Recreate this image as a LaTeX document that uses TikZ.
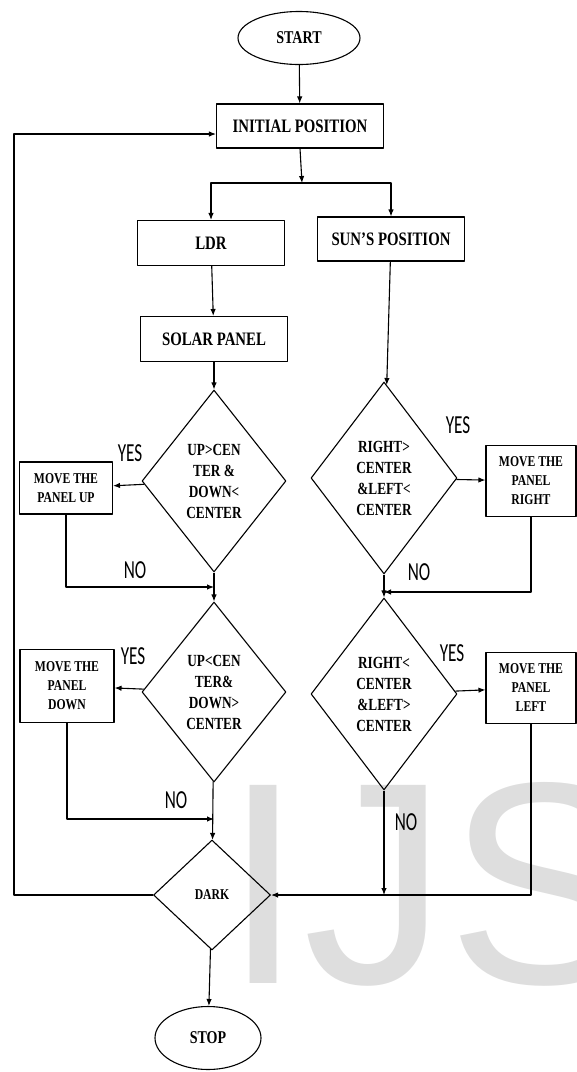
\documentclass[tikz,border=0pt]{standalone}
\usepackage{fontspec}
\newfontfamily\boxfont{Liberation Serif}[FakeStretch=0.78]
\newfontfamily\labfont{Carlito}[FakeStretch=0.66]
\newfontfamily\wmfont{Liberation Sans}
\usetikzlibrary{shapes.geometric,arrows.meta}
\begin{document}
\begin{tikzpicture}[x=1pt, y=-1pt, line width=1.1pt, line join=round,
    arr/.style={-{Latex[length=7pt,width=5.5pt]}},
    box/.style={draw, rectangle, align=center, inner sep=0pt, font={\boxfont\bfseries\fontsize{19}{21}\selectfont}},
    small/.style={box, font={\boxfont\bfseries\fontsize{15}{19}\selectfont}},
    dia/.style={draw, diamond, align=center, inner sep=0pt, font={\boxfont\bfseries\fontsize{17}{21}\selectfont}},
    oval/.style={draw, ellipse, inner sep=0pt, font={\boxfont\bfseries\fontsize{18}{20}\selectfont}},
    lab/.style={font={\labfont\fontsize{26}{28}\selectfont}}]
    \useasboundingbox (0,0) rectangle (577,1072);
    % watermark
    \node[anchor=base west, inner sep=0pt, text=black!13, font={\wmfont\fontsize{288}{288}\selectfont}] (wm) at (223,983) {IJS};
    % top
    \node[oval, minimum width=122, minimum height=53] (start) at (299,38) {START};
    \node[box, minimum width=167, minimum height=44] (init) at (300,126) {INITIAL POSITION};
    \node[box, minimum width=147, minimum height=45] (ldr) at (211,243) {LDR};
    \node[box, minimum width=147, minimum height=44] (sun) at (391,239) {SUN’S POSITION};
    \node[box, minimum width=147, minimum height=45] (solar) at (214,339) {SOLAR PANEL};
    % decisions
    \node[dia, minimum width=144, minimum height=182] (upc) at (214,481) {UP>CEN\\TER \&\\DOWN<\\CENTER};
    \node[dia, minimum width=146, minimum height=192] (rightc) at (384,478) {RIGHT>\\CENTER\\\&LEFT<\\CENTER};
    \node[dia, minimum width=144, minimum height=180] (downc) at (214,692) {UP<CEN\\TER\&\\DOWN>\\CENTER};
    \node[dia, minimum width=146, minimum height=192] (leftc) at (384,694) {RIGHT<\\CENTER\\\&LEFT>\\CENTER};
    \node[dia, minimum width=117, minimum height=110, font={\boxfont\bfseries\fontsize{15}{17}\selectfont}] (dark) at (212,895) {DARK};
    \node[oval, minimum width=106, minimum height=63] (stop) at (208,1038) {STOP};
    % moves
    \node[small, minimum width=93, minimum height=52] (mup) at (66,488) {MOVE THE\\PANEL UP};
    \node[small, minimum width=90, minimum height=71] (mright) at (531,481) {MOVE THE\\PANEL\\RIGHT};
    \node[small, minimum width=94, minimum height=73] (mdown) at (67,686) {MOVE THE\\PANEL\\DOWN};
    \node[small, minimum width=90, minimum height=71] (mleft) at (531,688) {MOVE THE\\PANEL\\LEFT};
    \path (302,183) coordinate (split)
          (214,587) coordinate (j1)
          (384,592) coordinate (j2)
          (214,819) coordinate (j3)
          (14,134) coordinate (lp);
    \draw[arr] (start) -- (init);
    \draw[arr] (init.south) -- (split);
    \draw[arr] (split) -| (ldr.north);
    \draw[arr] (split) -| (sun.north);
    \draw[arr] (ldr) -- (solar);
    \draw[arr] (solar) -- (upc);
    \draw[arr] (sun) -- (rightc);
    \draw[arr] (upc) -- (mup);
    \draw[arr] (rightc) -- (mright);
    \draw[arr] (mup.south) |- (j1);
    \draw[arr] (mright.south) |- (j2);
    \draw[arr] (upc) -- (downc);
    \draw[arr] (rightc) -- (leftc);
    \draw[arr] (downc) -- (mdown);
    \draw[arr] (leftc) -- (mleft);
    \draw[arr] (mdown.south) |- (j3);
    \draw[arr] (downc) -- (dark);
    \draw[arr] (leftc.south) -- (leftc.south |- dark.east);
    \draw[arr] (mleft.south) |- (dark.east);
    \draw[arr] (dark.west) -| (lp) -- ([yshift=-8pt]init.west);
    \draw[arr] (dark) -- (stop);
    % labels
    \foreach \p/\t in {{(130,453)}/YES, {(135,570)}/NO, {(458,425)}/YES, {(419,572)}/NO,
                       {(133,656)}/YES, {(176,800)}/NO, {(452,653)}/YES, {(406,822)}/NO}
        \node[lab] at \p {\t};
\end{tikzpicture}
\end{document}
